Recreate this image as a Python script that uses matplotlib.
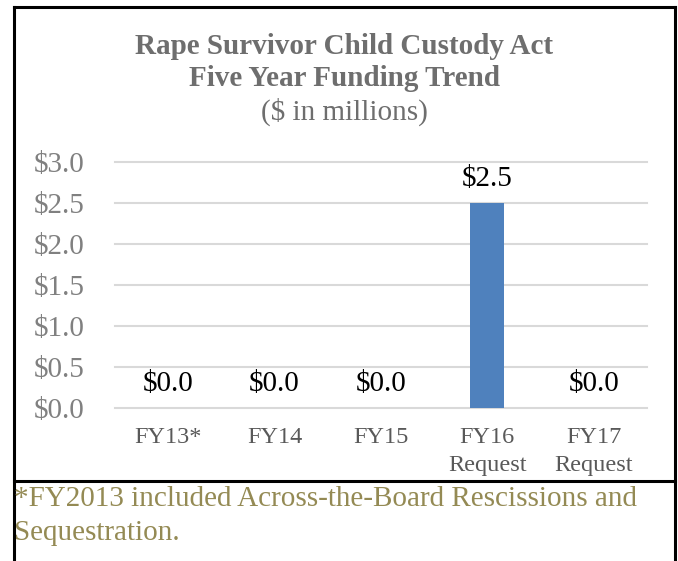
import matplotlib
matplotlib.use('Agg')
import matplotlib.pyplot as plt
from matplotlib.lines import Line2D
import numpy as np

plt.rcParams['font.family'] = ['Liberation Serif', 'DejaVu Serif']

categories = ['FY13*', 'FY14', 'FY15', 'FY16\nRequest', 'FY17\nRequest']
values = [0.0, 0.0, 0.0, 2.5, 0.0]
yticks = [0.0, 0.5, 1.0, 1.5, 2.0, 2.5, 3.0]
title_lines = ['Rape Survivor Child Custody Act', 'Five Year Funding Trend']
subtitle = '($ in millions)'
footnote = ['*FY2013 included Across-the-Board Rescissions and', 'Sequestration.']

W, H = 678, 561
fig = plt.figure(figsize=(W / 100, H / 100), dpi=100)

def fx(px):
    return px / W

def fy(py):
    return 1 - py / H

# plot area
ax = fig.add_axes([fx(115), fy(408), fx(647) - fx(115), fy(162) - fy(408)])
x = np.arange(len(categories))
ax.bar(x, values, width=0.32, color='#4F81BD', zorder=3)
ax.set_xlim(-0.5, len(categories) - 0.5)
ax.set_ylim(0, 3.0)
ax.set_yticks(yticks)
ax.set_yticklabels([f'${v:.1f}' for v in yticks], fontsize=21, color='#808080')
ax.set_xticks(x)
ax.set_xticklabels(categories, fontsize=17.5, color='#595959', linespacing=1.4)
ax.tick_params(axis='both', length=0)
ax.tick_params(axis='y', pad=22)
ax.tick_params(axis='x', pad=14)
for v in yticks:
    ax.axhline(v, color='#D9D9D9', linewidth=1.5, zorder=1, clip_on=False)
for s in ax.spines.values():
    s.set_visible(False)

for xi, v in zip(x, values):
    ax.annotate(f'${v:.1f}', (xi, v), xytext=(0, 8), textcoords='offset points',
                ha='center', va='bottom', fontsize=21, color='black')

# titles
fig.text(0.5075, fy(46), title_lines[0], ha='center', va='center', fontsize=21,
         fontweight='bold', color='#6E6E6E')
fig.text(0.5075, fy(79), title_lines[1], ha='center', va='center', fontsize=21,
         fontweight='bold', color='#6E6E6E')
fig.text(0.5075, fy(112), subtitle, ha='center', va='center', fontsize=21,
         color='#6E6E6E')

# footnote
fig.text(fx(14), fy(499), footnote[0], ha='left', va='center', fontsize=21, color='#948A54')
fig.text(fx(14), fy(533), footnote[1], ha='left', va='center', fontsize=21, color='#948A54')

# outer box lines
lw = 2.2
fig.add_artist(Line2D([fx(14), fx(14)], [fy(7), 0], color='black', linewidth=lw))
fig.add_artist(Line2D([fx(675), fx(675)], [fy(7), 0], color='black', linewidth=lw))
fig.add_artist(Line2D([fx(14), fx(675)], [fy(7), fy(7)], color='black', linewidth=lw))
fig.add_artist(Line2D([fx(14), fx(675)], [fy(481), fy(481)], color='black', linewidth=lw))

fig.savefig('out.png', dpi=100)
